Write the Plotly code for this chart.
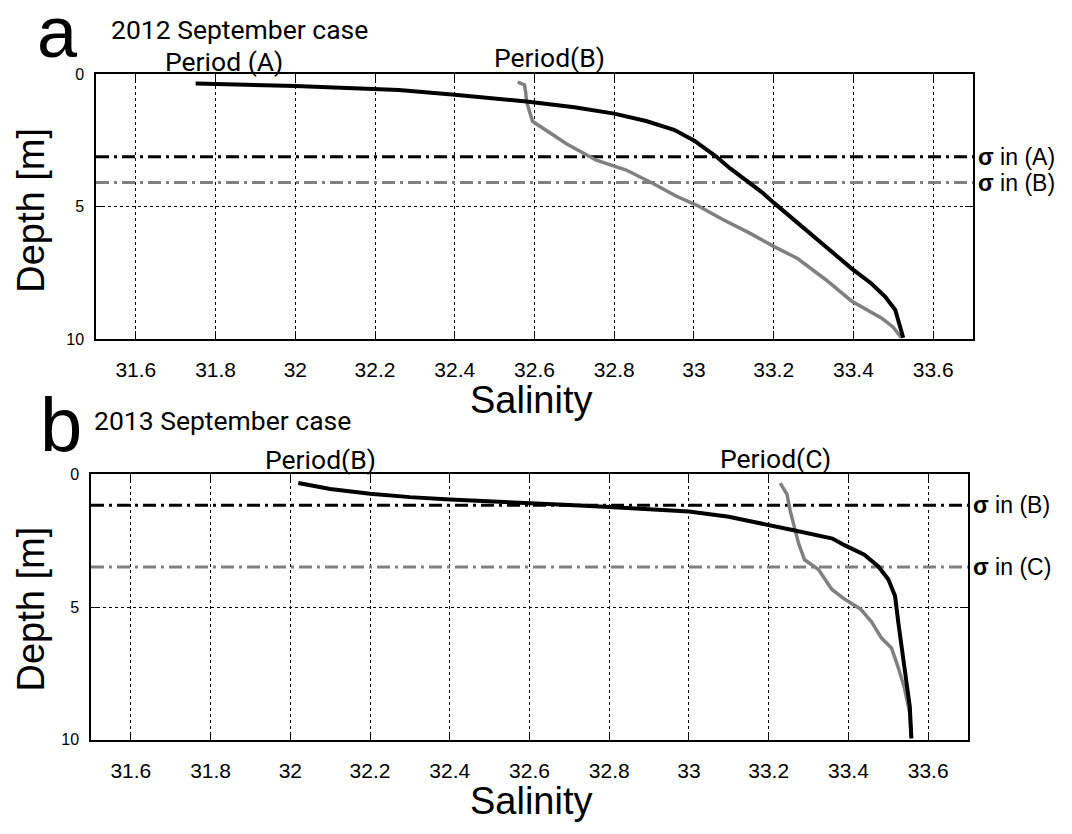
import plotly.graph_objects as go

# ---------------- data ----------------
# Panel a (2012 September)
a_A_sal = [31.75, 31.90, 32.00, 32.13, 32.26, 32.40, 32.50, 32.58, 32.70, 32.80, 32.88, 32.95, 33.00, 33.055, 33.09, 33.13, 33.17, 33.20, 33.26, 33.33, 33.395, 33.445, 33.48, 33.505, 33.515, 33.525]
a_A_dep = [0.35, 0.40, 0.45, 0.52, 0.60, 0.78, 0.90, 1.03, 1.25, 1.49, 1.77, 2.10, 2.50, 3.10, 3.55, 4.00, 4.45, 4.85, 5.60, 6.50, 7.33, 7.90, 8.40, 8.90, 9.40, 9.95]
a_B_sal = [32.558, 32.575, 32.578, 32.58, 32.595, 32.63, 32.68, 32.755, 32.83, 32.895, 32.955, 33.01, 33.07, 33.14, 33.20, 33.26, 33.33, 33.395, 33.44, 33.47, 33.50, 33.52]
a_B_dep = [0.30, 0.41, 0.70, 1.03, 1.78, 2.14, 2.63, 3.25, 3.62, 4.11, 4.60, 4.97, 5.47, 6.00, 6.50, 6.96, 7.75, 8.56, 8.95, 9.20, 9.55, 9.95]
a_sigma_dep = [3.12, 4.09]
a_sigma_lbl = ["in (A)", "in (B)"]

# Panel b (2013 September)
b_B_sal = [32.02, 32.10, 32.20, 32.30, 32.40, 32.50, 32.60, 32.70, 32.80, 32.90, 33.00, 33.10, 33.19, 33.26, 33.36, 33.39, 33.44, 33.475, 33.50, 33.517, 33.525, 33.537, 33.545, 33.554, 33.558]
b_B_dep = [0.33, 0.55, 0.73, 0.86, 0.95, 1.03, 1.10, 1.16, 1.23, 1.30, 1.40, 1.60, 1.87, 2.10, 2.42, 2.67, 3.03, 3.47, 3.95, 4.58, 5.56, 6.90, 8.00, 8.75, 9.95]
b_C_sal = [33.229, 33.246, 33.254, 33.267, 33.275, 33.29, 33.325, 33.358, 33.39, 33.43, 33.458, 33.483, 33.508, 33.525, 33.54, 33.554, 33.558]
b_C_dep = [0.33, 0.76, 1.38, 2.11, 2.60, 3.22, 3.59, 4.33, 4.70, 5.07, 5.56, 6.17, 6.54, 7.28, 8.02, 9.00, 9.95]
b_sigma_dep = [1.17, 3.49]
b_sigma_lbl = ["in (B)", "in (C)"]

x_ticks = [31.6, 31.8, 32.0, 32.2, 32.4, 32.6, 32.8, 33.0, 33.2, 33.4, 33.6]
x_tick_text = ["31.6", "31.8", "32", "32.2", "32.4", "32.6", "32.8", "33", "33.2", "33.4", "33.6"]
y_ticks = [0, 5, 10]
x_range = [31.5, 33.7]

BLACK = "#000000"
GRAY = "#808080"
DASH = "13px,5px,3px,5px"

fig = go.Figure()

def add_profiles(xa, ya, s1, d1, s2, d2, sig):
    fig.add_trace(go.Scatter(x=[x_range[0], x_range[1]], y=[sig[0], sig[0]], mode="lines",
                             line=dict(color=BLACK, width=3, dash=DASH), xaxis=xa, yaxis=ya, showlegend=False))
    fig.add_trace(go.Scatter(x=[x_range[0], x_range[1]], y=[sig[1], sig[1]], mode="lines",
                             line=dict(color=GRAY, width=3, dash=DASH), xaxis=xa, yaxis=ya, showlegend=False))
    fig.add_trace(go.Scatter(x=s2, y=d2, mode="lines", line=dict(color=GRAY, width=3.5),
                             xaxis=xa, yaxis=ya, showlegend=False))
    fig.add_trace(go.Scatter(x=s1, y=d1, mode="lines", line=dict(color=BLACK, width=4),
                             xaxis=xa, yaxis=ya, showlegend=False))

add_profiles("x", "y", a_A_sal, a_A_dep, a_B_sal, a_B_dep, a_sigma_dep)
add_profiles("x2", "y2", b_B_sal, b_B_dep, b_C_sal, b_C_dep, b_sigma_dep)

ar = "Liberation Sans, Arial, sans-serif"
rb = "Roboto, Noto Sans, sans-serif"

xax = dict(range=x_range, tickvals=x_ticks, ticktext=x_tick_text, showgrid=True, gridcolor="black",
           griddash="dot", gridwidth=1, showline=True, linecolor="black", linewidth=1.5, mirror="ticks",
           ticks="inside", ticklen=8, tickcolor="black", tickwidth=1, zeroline=False,
           tickfont=dict(family=ar, size=21, color="black"), ticklabelstandoff=11, fixedrange=True)
yax = dict(range=[10, 0], tickvals=y_ticks, showgrid=True, gridcolor="black", griddash="dot", gridwidth=1,
           showline=True, linecolor="black", linewidth=1.5, mirror="ticks", ticks="inside", ticklen=8,
           tickcolor="black", tickwidth=1, zeroline=False,
           tickfont=dict(family=ar, size=16, color="black"), ticklabelstandoff=7, fixedrange=True)

W, H = 1072, 834
fig.update_layout(
    width=W, height=H, margin=dict(l=0, r=0, t=0, b=0),
    paper_bgcolor="white", plot_bgcolor="white",
    xaxis=dict(xax, domain=[96 / W, 973 / W], anchor="y"),
    yaxis=dict(yax, domain=[1 - 338 / H, 1 - 67.5 / H], anchor="x"),
    xaxis2=dict(xax, domain=[91 / W, 968 / W], anchor="y2"),
    yaxis2=dict(yax, domain=[1 - 747 / H, 1 - 476 / H], anchor="x2"),
)

def ann(text, px, py, size, family, xanchor="center", angle=0):
    fig.add_annotation(text=text, x=px / W, y=1 - py / H, xref="paper", yref="paper",
                       showarrow=False, xanchor=xanchor, yanchor="middle", borderpad=0, borderwidth=0,
                       font=dict(family=family, size=size, color="black"), textangle=angle)

# panel letters and titles (Roboto: centre = baseline - 0.342 em)
ann("a", 57, 24, 72, ar)
ann("2012 September case", 111, 22, 26.5, rb, xanchor="left")
ann("Period (A)", 224, 54.5, 26.5, rb)
ann("Period(B)", 549, 50.5, 26.5, rb)
ann("b", 61, 425, 76, ar)
ann("2013 September case", 94, 421, 26.5, rb, xanchor="left")
ann("Period(B)", 320, 461, 26.5, rb)
ann("Period(C)", 775, 460, 26.5, rb)

# axis titles
ann("Depth [m]", 31, 207, 38, ar, angle=-90)
ann("Depth [m]", 31, 614, 38, ar, angle=-90)
ann("Salinity", 531, 400, 38, ar)
ann("Salinity", 531, 810, 38, ar)

# sigma labels
for d, lbl in zip(a_sigma_dep, a_sigma_lbl):
    fig.add_annotation(text="<b>σ</b> " + lbl, x=978 / W, y=d, xref="paper", yref="y", showarrow=False,
                       xanchor="left", yanchor="middle", borderpad=0, borderwidth=0,
                       font=dict(family=ar, size=23, color="black"))
for d, lbl in zip(b_sigma_dep, b_sigma_lbl):
    fig.add_annotation(text="<b>σ</b> " + lbl, x=973 / W, y=d, xref="paper", yref="y2", showarrow=False,
                       xanchor="left", yanchor="middle", borderpad=0, borderwidth=0,
                       font=dict(family=ar, size=23, color="black"))

fig.write_html("out.html", config={"displayModeBar": False},
               post_script="document.body.style.margin='0';")
